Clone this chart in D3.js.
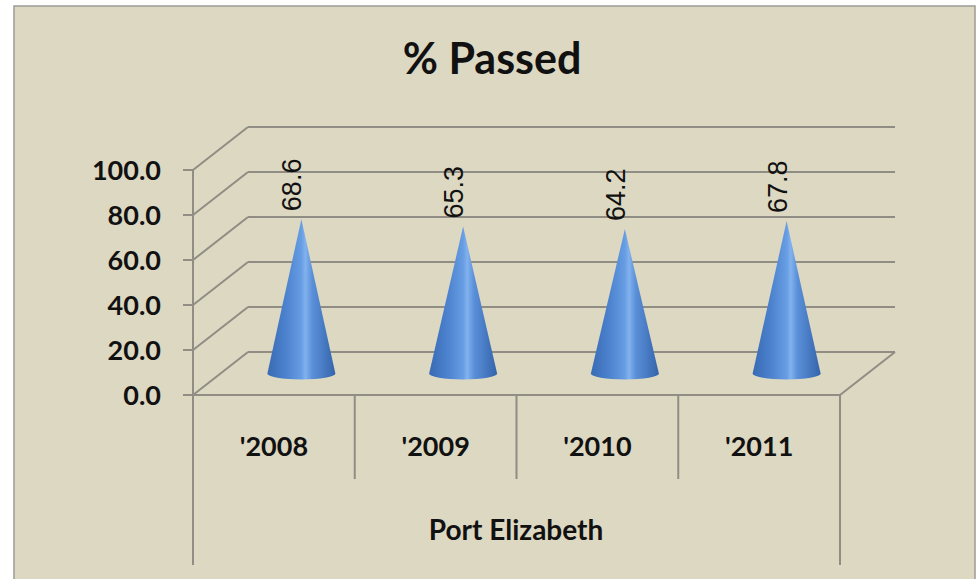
<!DOCTYPE html>
<html>
<head>
<meta charset="utf-8">
<script src="https://cdn.jsdelivr.net/npm/d3@7"></script>
<style>
  html, body { margin: 0; padding: 0; background: #ffffff; }
  svg { display: block; }
</style>
</head>
<body>
<svg id="chart" width="979" height="579"></svg>
<script>
// ---- data ----
const categories = ["'2008", "'2009", "'2010", "'2011"];
const values = [68.6, 65.3, 64.2, 67.8];
const yTicks = [0, 20, 40, 60, 80, 100];
const groupLabel = "Port Elizabeth";
const title = "% Passed";

// ---- layout ----
const svg = d3.select("#chart");
const bg = "#ddd8c2";
const gridColor = "#8f8d84";
const left = 193, right = 840;
const depthX = 55, depthY = -43;

svg.append("rect").attr("x", 14).attr("y", 6).attr("width", 961).attr("height", 600)
  .attr("fill", bg).attr("stroke", "#9c9b96").attr("stroke-width", 1.5);

const x = d3.scaleBand().domain(categories).range([left, right]).padding(0);
const y = d3.scaleLinear().domain([0, 100]).range([395, 170]);

// title
svg.append("text").attr("x", 492).attr("y", 74).attr("text-anchor", "middle")
  .attr("font-family", "Lato, 'Open Sans', sans-serif").attr("font-weight", "bold")
  .attr("font-size", 43).attr("fill", "#111").text(title);

const g = svg.append("g");
const line = (x1, y1, x2, y2, w) => g.append("line")
  .attr("x1", x1).attr("y1", y1).attr("x2", x2).attr("y2", y2)
  .attr("stroke", gridColor).attr("stroke-width", w || 2);

// back wall gridlines + side wall diagonals
yTicks.forEach(t => {
  line(left + depthX, y(t) + depthY, right + depthX, y(t) + depthY);
  line(left, y(t), left + depthX, y(t) + depthY);
  line(left - 10, y(t), left, y(t));
});
// front vertical axis line
line(left, y(100), left, y(0));
// floor front edge and right edge
line(left, y(0), right, y(0));
line(right, y(0), right + depthX, y(0) + depthY);

// y tick labels
g.selectAll(".ytl").data(yTicks).enter().append("text")
  .attr("x", 161).attr("y", d => y(d)).attr("dy", "0.36em")
  .attr("text-anchor", "end")
  .attr("font-family", "Lato, sans-serif").attr("font-weight", "bold")
  .attr("font-size", 27).attr("fill", "#111")
  .text(d => d3.format(".1f")(d));

// category dividers
const bounds = categories.map(c => x(c)).concat([right]);
bounds.forEach((b, i) => {
  const outer = (i === 0 || i === bounds.length - 1);
  line(b, y(0), b, outer ? 565 : 479);
});

// category labels
g.selectAll(".cat").data(categories).enter().append("text")
  .attr("x", d => x(d) + x.bandwidth() / 2).attr("y", 456)
  .attr("text-anchor", "middle")
  .attr("font-family", "Lato, sans-serif").attr("font-weight", "bold")
  .attr("font-size", 27).attr("fill", "#111").text(d => d);

svg.append("text").attr("x", 516).attr("y", 540).attr("text-anchor", "middle")
  .attr("font-family", "Lato, sans-serif").attr("font-weight", "bold")
  .attr("font-size", 28).attr("fill", "#111").text(groupLabel);

// cone gradient
const defs = svg.append("defs");
const grad = defs.append("linearGradient").attr("id", "coneGrad")
  .attr("x1", "0%").attr("x2", "100%").attr("y1", "0%").attr("y2", "0%");
[["0%", "#3a6bb4"], ["25%", "#4a80cc"], ["50%", "#679de3"], ["56%", "#82b2ee"],
 ["66%", "#5a90d9"], ["100%", "#3464ab"]].forEach(s =>
  grad.append("stop").attr("offset", s[0]).attr("stop-color", s[1]));

// cones at mid-depth
const midX = depthX / 2, midY = depthY / 2;
const rx = 34, ry = 6;
const cones = g.selectAll(".cone").data(values).enter().append("g");
cones.append("path")
  .attr("d", (d, i) => {
    const cx = x(categories[i]) + x.bandwidth() / 2 + midX;
    const by = y(0) + midY;
    const ay = y(d) + midY;
    return `M${cx - rx},${by} L${cx},${ay} L${cx + rx},${by} A${rx},${ry} 0 0 1 ${cx - rx},${by} Z`;
  })
  .attr("fill", "url(#coneGrad)");

// data labels
cones.append("text")
  .attr("transform", (d, i) => {
    const cx = x(categories[i]) + x.bandwidth() / 2 + midX - 9;
    const ay = y(d) + midY - 8;
    return `translate(${cx},${ay}) rotate(-90)`;
  })
  .attr("dominant-baseline", "central")
  .attr("text-anchor", "start")
  .attr("font-family", "'Liberation Sans', Arial, sans-serif")
  .attr("font-size", 27).attr("fill", "#111")
  .text(d => d3.format(".1f")(d));
</script>
</body>
</html>
